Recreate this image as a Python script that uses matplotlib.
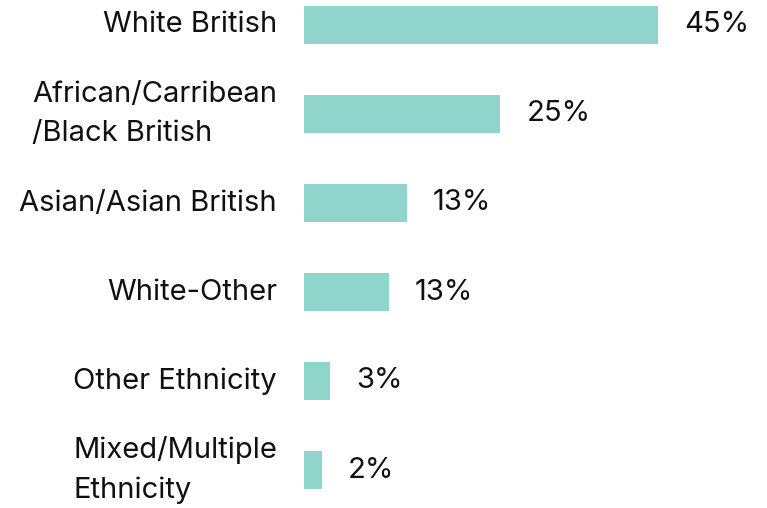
import matplotlib
matplotlib.use("Agg")
import matplotlib.pyplot as plt

categories = ["White British", "African/Carribean\n/Black British", "Asian/Asian British",
              "White-Other", "Other Ethnicity", "Mixed/Multiple\nEthnicity"]
values = [45, 25, 13.1, 10.8, 3.4, 2.3]
value_labels = ["45%", "25%", "13%", "13%", "3%", "2%"]

plt.rcParams['font.family'] = ['Inter', 'DejaVu Sans']
W, H = 767, 508
fig = plt.figure(figsize=(W / 100, H / 100), dpi=100)
x0 = 303.5
ax = fig.add_axes([x0 / W, 0, 1 - x0 / W, 1])
px_per_unit = (658 - x0) / 45
ax.set_xlim(0, (W - x0) / px_per_unit)
step = (470 - 25) / 5
ax.set_ylim(5 + (H - 470) / step, -25 / step)

color = "#8fd5cb"
pos = list(range(len(categories)))
ax.barh(pos, values, height=38.5 / step, color=color)
for p, v, lab in zip(pos, values, value_labels):
    ax.annotate(lab, (v, p), xytext=(19, 0), textcoords="offset points",
                ha="left", va="center", fontsize=21, color="#111111")
for p, c in zip(pos, categories):
    ax.annotate(c, (0, p), xytext=(-19, 0), textcoords="offset points",
                ha="right", va="center", ma="left", fontsize=21, color="#111111",
                linespacing=1.55, annotation_clip=False)
ax.axis("off")
fig.savefig("out.png", dpi=100)
